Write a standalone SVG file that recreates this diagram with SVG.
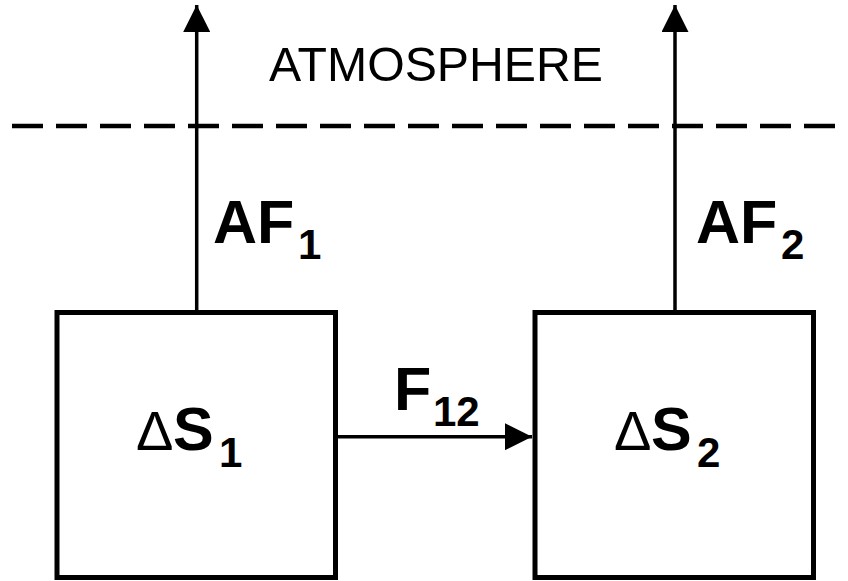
<svg xmlns="http://www.w3.org/2000/svg" width="848" height="581" viewBox="0 0 848 581">
<defs>
<marker id="arrow" markerUnits="userSpaceOnUse" markerWidth="27" markerHeight="27" refX="27" refY="13.5" orient="auto" viewBox="0 0 27 27">
<path d="M0,0 L27,13.5 L0,27 Z" fill="#000"/>
</marker>
</defs>
<style>
.box{fill:#fff;stroke:#000;stroke-width:5}
.conn{stroke:#000;stroke-width:3.5;fill:none}
.dash{stroke:#000;stroke-width:4.5;stroke-dasharray:31 13;fill:none}
.t{font-family:"Liberation Sans",Arial,sans-serif;fill:#000}
.b{font-weight:bold}
.atm{font-size:48px}
.main{font-size:61px}
.sub{font-size:42px}
.delta{font-size:56px;font-weight:normal}
</style>
<rect width="848" height="581" fill="#fff"/>
<line class="dash" x1="12" y1="126" x2="840" y2="126"/>
<text class="t atm" x="436" y="80.5" text-anchor="middle" textLength="334" lengthAdjust="spacingAndGlyphs">ATMOSPHERE</text>
<g id="connectors">
<line class="conn" x1="196.7" y1="310" x2="196.7" y2="5" marker-end="url(#arrow)"/>
<line class="conn" x1="675" y1="310" x2="675" y2="5" marker-end="url(#arrow)"/>
<line class="conn" x1="338" y1="436.7" x2="532" y2="436.7" marker-end="url(#arrow)"/>
<text class="t b main" x="213" y="243">AF<tspan class="sub" x="298" y="259">1</tspan></text>
<text class="t b main" x="696" y="243">AF<tspan class="sub" x="781" y="259">2</tspan></text>
<text class="t b main" x="394" y="410">F<tspan class="sub" x="433" y="426">12</tspan></text>
</g>
<g id="s1">
<rect class="box" x="57" y="312.5" width="278.5" height="265"/>
<text class="t" x="136" y="450"><tspan class="delta">Δ</tspan><tspan class="b main" x="173">S</tspan><tspan class="b sub" x="219" y="467">1</tspan></text>
</g>
<g id="s2">
<rect class="box" x="535" y="312.5" width="278.5" height="265"/>
<text class="t" x="614" y="450"><tspan class="delta">Δ</tspan><tspan class="b main" x="651">S</tspan><tspan class="b sub" x="697" y="467">2</tspan></text>
</g>
</svg>
